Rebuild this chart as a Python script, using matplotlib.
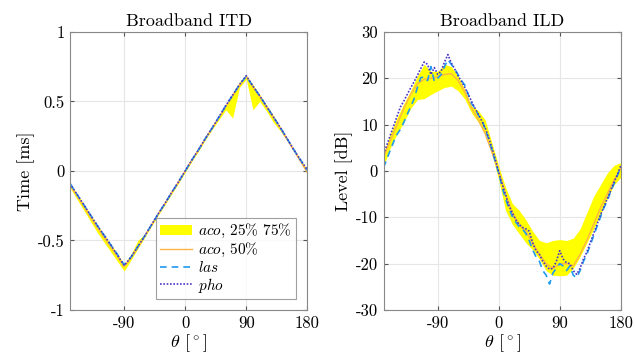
import numpy as np
import matplotlib
matplotlib.use('Agg')
import matplotlib.pyplot as plt

plt.rcParams['font.family'] = 'serif'
plt.rcParams['font.serif'] = ['cmr10']
plt.rcParams['mathtext.fontset'] = 'cm'
plt.rcParams['axes.unicode_minus'] = False
plt.rcParams['axes.formatter.use_mathtext'] = True

# ITD data, 10 deg steps
theta_itd = list(range(-170, 181, 10))
itd_las = [-0.09, -0.165, -0.24, -0.315, -0.39, -0.46, -0.53, -0.60, -0.675, -0.62, -0.545, -0.47,
           -0.39, -0.31, -0.235, -0.155, -0.08, 0.0, 0.08, 0.155, 0.235, 0.31, 0.39, 0.47,
           0.545, 0.62, 0.68, 0.61, 0.54, 0.465, 0.39, 0.315, 0.235, 0.155, 0.08, 0.005]
itd_pho = [-0.09, -0.165, -0.24, -0.315, -0.39, -0.46, -0.53, -0.605, -0.68, -0.62, -0.545, -0.47,
           -0.39, -0.31, -0.235, -0.155, -0.08, 0.0, 0.08, 0.155, 0.235, 0.31, 0.39, 0.47,
           0.545, 0.62, 0.685, 0.61, 0.54, 0.465, 0.39, 0.315, 0.235, 0.155, 0.08, 0.01]
itd_med = [-0.10, -0.175, -0.25, -0.33, -0.405, -0.475, -0.545, -0.615, -0.69, -0.625, -0.55, -0.47,
           -0.39, -0.31, -0.235, -0.155, -0.08, 0.0, 0.08, 0.155, 0.235, 0.31, 0.385, 0.465,
           0.54, 0.615, 0.68, 0.605, 0.535, 0.46, 0.385, 0.31, 0.23, 0.15, 0.07, -0.01]
itd_lo = [-0.12, -0.20, -0.28, -0.36, -0.44, -0.51, -0.58, -0.65, -0.72, -0.64, -0.56, -0.48,
          -0.40, -0.32, -0.245, -0.165, -0.09, -0.01, 0.07, 0.145, 0.225, 0.30, 0.37, 0.44,
          0.38, 0.60, 0.66, 0.44, 0.50, 0.43, 0.35, 0.29, 0.22, 0.145, 0.07, -0.01]
itd_hi = [-0.09, -0.16, -0.235, -0.31, -0.385, -0.455, -0.525, -0.595, -0.67, -0.60, -0.50, -0.455,
          -0.38, -0.30, -0.225, -0.145, -0.07, 0.01, 0.09, 0.165, 0.245, 0.32, 0.40, 0.48,
          0.56, 0.64, 0.69, 0.62, 0.55, 0.475, 0.40, 0.32, 0.24, 0.16, 0.085, 0.01]

# ILD data: aco at 10 deg, las/pho at 5 deg
theta_ild_aco = list(range(-170, 181, 10))
ild_med = [2.9, 6.5, 10.0, 13.5, 16.5, 18.8, 19.8, 20.0, 20.3, 20.8, 21.0, 19.5,
           17.0, 13.5, 11.0, 8.0, 4.0, 0.0, -5.0, -9.0, -11.5, -13.0, -15.5, -18.0,
           -20.0, -21.0, -20.0, -20.0, -20.5, -18.0, -15.0, -11.5, -8.0, -5.0, -2.0, 0.5]
ild_lo = [1.0, 5.0, 8.0, 10.5, 13.5, 15.4, 15.6, 16.5, 17.3, 18.0, 18.3, 17.3,
          15.5, 12.5, 10.5, 8.0, 3.5, -2.0, -8.5, -11.5, -13.5, -15.5, -17.0, -19.0,
          -21.5, -22.5, -22.6, -22.5, -21.0, -18.5, -15.5, -12.5, -9.5, -6.0, -3.0, -1.4]
ild_hi = [3.8, 8.0, 11.5, 14.5, 17.3, 20.5, 23.0, 21.5, 21.5, 23.0, 22.5, 20.5,
          17.5, 14.0, 13.0, 11.0, 6.0, 1.0, -3.5, -7.0, -8.5, -10.5, -13.0, -15.0,
          -15.5, -15.0, -14.8, -15.0, -14.5, -12.5, -9.0, -5.5, -3.0, -0.5, 1.2, 1.8]

theta_ild = list(range(-170, 181, 5))
ild_pho = [3.6, 5.6, 7.7, 9.7, 11.8, 13.8, 15.1, 16.5, 17.9, 19.2, 20.6, 22.1, 23.5, 23.0,
           20.8, 22.3, 20.8, 21.5, 23.5, 25.1, 23.3, 22.0, 20.5, 19.3, 18.0, 16.5, 15.0,
           13.5, 12.2, 10.8, 9.3, 7.2, 5.0, 2.5, -0.3, -2.8, -5.0, -7.5, -9.0, -10.5, -11.5,
           -12.2, -12.5, -13.0, -15.5, -17.2, -18.0, -19.5, -20.5, -21.2, -21.0, -19.5, -17.2,
           -19.0, -19.8, -20.0, -21.5, -22.3, -21.0, -19.0, -17.5, -15.5, -13.5, -11.5, -9.5,
           -7.8, -6.0, -4.3, -2.5, -0.8, 1.1]
ild_las = [0.7, 2.6, 4.5, 6.3, 7.9, 9.0, 10.5, 12.2, 13.8, 15.5, 18.0, 20.1, 20.3, 19.5,
           22.5, 19.3, 20.0, 20.8, 22.5, 24.0, 23.0, 22.0, 20.8, 19.5, 18.5, 16.5, 14.5,
           13.5, 12.0, 11.0, 9.0, 7.0, 4.5, 2.0, -0.5, -3.5, -6.0, -8.0, -9.8, -11.0, -12.0,
           -12.5, -13.5, -15.0, -17.0, -18.5, -19.5, -21.5, -22.5, -24.4, -22.0, -21.0, -20.0,
           -20.5, -21.5, -20.5, -22.5, -23.0, -21.5, -19.5, -18.0, -16.0, -14.0, -12.0, -10.0,
           -8.0, -6.5, -4.5, -2.8, -1.0, 0.8]

c_band = '#ffff00'
c_med = '#ffb347'
c_las = '#1f9bf0'
c_pho = '#4a35c8'

fig = plt.figure(figsize=(6.36, 3.58), dpi=100)
ax1 = fig.add_axes([0.110, 0.134, 0.373, 0.777])
ax2 = fig.add_axes([0.603, 0.134, 0.373, 0.777])

def style(ax):
    ax.grid(True, color='#e6e6e6', linewidth=0.8)
    ax.set_axisbelow(True)
    ax.tick_params(direction='in', top=True, right=True, labelsize=12, length=3,
                   color='#555555', pad=4)
    for s in ax.spines.values():
        s.set_color('#888888')
        s.set_linewidth(0.8)
    ax.set_xlim(-170, 180)
    ax.set_xticks([-90, 0, 90, 180])
    ax.set_xticklabels(['-90', '0', '90', '180'])
    ax.set_xlabel(r'$\theta$ [$^\circ$]', fontsize=13, labelpad=1)

# ITD
ax1.fill_between(theta_itd, itd_lo, itd_hi, color=c_band, linewidth=0, label=r'$aco$, 25% 75%')
ax1.plot(theta_itd, itd_med, color=c_med, lw=1.0, label=r'$aco$, 50%')
ax1.plot(theta_itd, itd_las, color=c_las, lw=1.2, ls=(0, (4, 3)), label=r'$las$')
ax1.plot(theta_itd, itd_pho, color=c_pho, lw=1.2, ls=(0, (1, 1)), label=r'$pho$')
style(ax1)
ax1.set_ylim(-1, 1)
ax1.set_yticks([-1, -0.5, 0, 0.5, 1])
ax1.set_yticklabels(['-1', '-0.5', '0', '0.5', '1'])
ax1.set_ylabel('Time [ms]', fontsize=13, labelpad=2)
ax1.set_title('Broadband ITD', fontsize=13, pad=4)
leg = ax1.legend(loc='lower right', fontsize=11, frameon=True, fancybox=False,
                 edgecolor='#888888', borderpad=0.3, labelspacing=0.05, handlelength=2.1,
                 handletextpad=0.4, borderaxespad=0.7)
leg.get_frame().set_linewidth(0.8)

# ILD
ax2.fill_between(theta_ild_aco, ild_lo, ild_hi, color=c_band, linewidth=0)
ax2.plot(theta_ild_aco, ild_med, color=c_med, lw=1.0)
ax2.plot(theta_ild, ild_las, color=c_las, lw=1.2, ls=(0, (4, 3)))
ax2.plot(theta_ild, ild_pho, color=c_pho, lw=1.2, ls=(0, (1, 1)))
style(ax2)
ax2.set_ylim(-30, 30)
ax2.set_yticks([-30, -20, -10, 0, 10, 20, 30])
ax2.set_yticklabels(['-30', '-20', '-10', '0', '10', '20', '30'])
ax2.set_ylabel('Level [dB]', fontsize=13, labelpad=2)
ax2.set_title('Broadband ILD', fontsize=13, pad=4)

fig.savefig('out.png', dpi=100)
